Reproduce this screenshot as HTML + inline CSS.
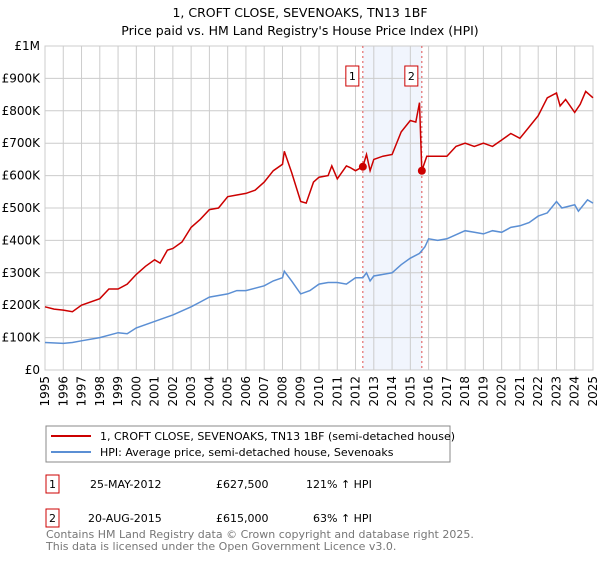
<!DOCTYPE html>
<html><head><meta charset="utf-8"><style>
body{margin:0;background:#fff;font-family:"DejaVu Sans","Liberation Sans",sans-serif;}
svg text{font-family:"DejaVu Sans","Liberation Sans",sans-serif;}
</style></head><body>
<svg id="c" width="600" height="560" xmlns="http://www.w3.org/2000/svg">
<text x="300" y="17" text-anchor="middle" font-size="12.5">1, CROFT CLOSE, SEVENOAKS, TN13 1BF</text>
<text x="300" y="35" text-anchor="middle" font-size="12.5">Price paid vs. HM Land Registry's House Price Index (HPI)</text>
<g id="plot"></g>
<rect x="46" y="426" width="404" height="36" fill="#fff" stroke="#888"/>
<line x1="51" y1="436" x2="91" y2="436" stroke="#cc0000" stroke-width="2"/>
<text x="100" y="440" font-size="11">1, CROFT CLOSE, SEVENOAKS, TN13 1BF (semi-detached house)</text>
<line x1="51" y1="452" x2="91" y2="452" stroke="#5b8fd4" stroke-width="2"/>
<text x="100" y="456" font-size="11">HPI: Average price, semi-detached house, Sevenoaks</text>
<g font-size="11">
<rect x="46" y="475" width="13" height="18" fill="#fff" stroke="#cc0000"/>
<text x="52.5" y="488" text-anchor="middle">1</text>
<text x="90" y="488">25-MAY-2012</text><text x="216" y="488">£627,500</text><text x="306" y="488">121% ↑ HPI</text>
<rect x="46" y="509" width="13" height="18" fill="#fff" stroke="#cc0000"/>
<text x="52.5" y="522" text-anchor="middle">2</text>
<text x="88" y="522">20-AUG-2015</text><text x="216" y="522">£615,000</text><text x="313" y="522">63% ↑ HPI</text>
</g>
<text x="46" y="538" font-size="11" fill="#777">Contains HM Land Registry data © Crown copyright and database right 2025.</text>
<text x="46" y="550" font-size="11" fill="#777">This data is licensed under the Open Government Licence v3.0.</text>
</svg>
<script>
const yTicks=[0,100,200,300,400,500,600,700,800,900,1000];
const yTickLabels=["£0","£100K","£200K","£300K","£400K","£500K","£600K","£700K","£800K","£900K","£1M"];
const years=[1995,1996,1997,1998,1999,2000,2001,2002,2003,2004,2005,2006,2007,2008,2009,2010,2011,2012,2013,2014,2015,2016,2017,2018,2019,2020,2021,2022,2023,2024,2025];
const propT=[1995,1995.5,1996,1996.5,1997,1998,1998.5,1999,1999.5,2000,2000.5,2001,2001.3,2001.7,2002,2002.5,2003,2003.5,2004,2004.5,2005,2005.5,2006,2006.5,2007,2007.5,2008,2008.1,2008.5,2009,2009.3,2009.7,2010,2010.5,2010.7,2011,2011.5,2011.7,2012,2012.4,2012.6,2012.8,2013,2013.5,2014,2014.5,2015,2015.3,2015.5,2015.63,2015.9,2016.5,2017,2017.5,2018,2018.5,2019,2019.5,2020,2020.5,2021,2021.5,2022,2022.5,2023,2023.2,2023.5,2024,2024.3,2024.6,2025];
const propV=[195,188,185,180,200,220,250,250,265,295,320,340,330,370,375,395,440,465,495,500,535,540,545,555,580,615,635,675,610,520,515,580,595,600,630,590,630,625,615,627.5,665,615,650,660,665,735,770,765,825,615,660,660,660,690,700,690,700,690,710,730,715,750,785,840,855,815,835,795,820,860,840];
const hpiT=[1995,1996,1996.5,1997,1998,1999,1999.5,2000,2001,2001.5,2002,2003,2003.5,2004,2005,2005.5,2006,2007,2007.5,2008,2008.1,2008.5,2009,2009.5,2010,2010.5,2011,2011.5,2012,2012.4,2012.6,2012.8,2013,2014,2014.5,2015,2015.5,2015.8,2016,2016.5,2017,2018,2018.5,2019,2019.5,2020,2020.5,2021,2021.5,2022,2022.5,2023,2023.3,2024,2024.2,2024.7,2025];
const hpiV=[85,82,85,90,100,115,112,130,150,160,170,195,210,225,235,245,245,260,275,285,305,275,235,245,265,270,270,265,285,285,300,275,290,300,325,345,360,380,405,400,405,430,425,420,430,425,440,445,455,475,485,520,500,510,490,525,515];
const sales=[{t:2012.4,v:627.5,l:"1"},{t:2015.63,v:615,l:"2"}];
const L=45,R=593,T=46,B=370;
const X=t=>L+(t-1995)/30*(R-L);
const Y=v=>B-v/1000*(B-T);
const g=document.getElementById('plot');const NS="http://www.w3.org/2000/svg";
function el(n,a,p){const e=document.createElementNS(NS,n);for(const k in a)e.setAttribute(k,a[k]);(p||g).appendChild(e);return e;}
let sh=el('rect',{x:X(sales[0].t),y:T,width:X(sales[1].t)-X(sales[0].t),height:B-T,fill:'#eef3fc',opacity:0.8});


yTicks.forEach((v,i)=>{let l=el('line',{x1:L,x2:R,y1:Y(v),y2:Y(v),stroke:'#ccc'});


let t=el('text',{x:L-5,y:Y(v)+4,'text-anchor':'end','font-size':12});t.textContent=yTickLabels[i];

});
years.forEach(y=>{let l=el('line',{x1:X(y),x2:X(y),y1:T,y2:B,stroke:'#ccc'});


let t=el('text',{x:0,y:0,'text-anchor':'end','font-size':12,transform:`translate(${X(y)+4},${B+6}) rotate(-90)`});t.textContent=y;

});
let ax=el('rect',{x:L,y:T,width:R-L,height:B-T,fill:'none',stroke:'#ccc'});


sales.forEach(s=>{let l=el('line',{x1:X(s.t),x2:X(s.t),y1:T,y2:B,stroke:'#e05050','stroke-dasharray':'2,3'});

});
function path(ts,vs,c,n){let d=ts.map((t,i)=>(i?'L':'M')+X(t).toFixed(1)+','+Y(vs[i]).toFixed(1)).join('');
let p=el('path',{d:d,fill:'none',stroke:c,'stroke-width':1.5});

}
path(hpiT,hpiV,'#5b8fd4','hpi-line');
path(propT,propV,'#cc0000','property-price-line');
sales.forEach(s=>{let c=el('circle',{cx:X(s.t),cy:Y(s.v),r:4,fill:'#cc0000'});


let b=el('rect',{x:X(s.t)-17,y:66,width:13,height:20,fill:'#fff',stroke:'#cc0000'});


let t=el('text',{x:X(s.t)-10.5,y:80,'text-anchor':'middle','font-size':11});t.textContent=s.l;

});
</script>
</body></html>
